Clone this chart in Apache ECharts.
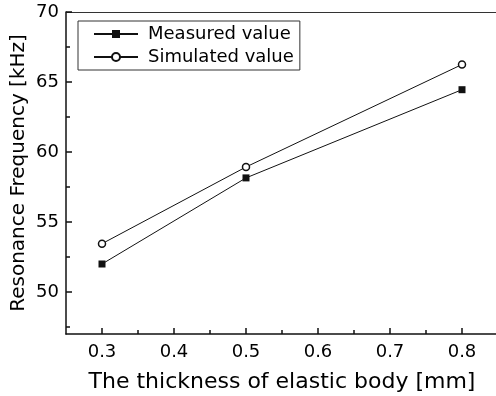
<!DOCTYPE html>
<html>
<head>
<meta charset="utf-8">
<script src="https://cdn.jsdelivr.net/npm/echarts@6/dist/echarts.min.js"></script>
<style>
  html, body { margin: 0; padding: 0; background: #fff; }
  #chart { width: 496px; height: 396px; }
</style>
</head>
<body>
<div id="chart"></div>
<script>
// thickness of elastic body [mm]
const thickness = [0.3, 0.5, 0.8];
// resonance frequency [kHz]
const measured = [52.0, 58.15, 64.45];
const simulated = [53.45, 58.93, 66.25];

const xMajor = [0.3, 0.4, 0.5, 0.6, 0.7, 0.8];
const xMinor = [0.35, 0.45, 0.55, 0.65, 0.75];
const yMajor = [50, 55, 60, 65, 70];
const yMinor = [47.5, 52.5, 57.5, 62.5, 67.5];

const FONT = 'DejaVu Sans';

const chart = echarts.init(document.getElementById('chart'));

const pairs = (ys) => thickness.map((x, i) => [x, ys[i]]);

const option = {
  animation: false,
  grid: {
    left: 66,
    right: -2,
    top: 12,
    bottom: 62,
    outerBoundsMode: 'none',
  },
  legend: {
    left: 78,
    top: 21,
    orient: 'vertical',
    padding: [4, 6, 4, 15],
    itemWidth: 44,
    itemHeight: 10,
    itemGap: 5,
    borderColor: '#333',
    borderWidth: 1,
    textStyle: {
      fontFamily: FONT,
      fontSize: 18,
      color: '#000',
      padding: [0, 0, 0, 5],
    },
    data: ['Measured value', 'Simulated value'],
  },
  xAxis: [
    {
      type: 'value',
      position: 'bottom',
      min: 0.25,
      max: 0.85,
      splitLine: { show: false },
      axisLine: { show: true, lineStyle: { color: '#111', width: 1.5 } },
      axisTick: {
        inside: true,
        length: 6,
        customValues: xMajor,
        lineStyle: { color: '#111', width: 1.5 },
      },
      axisLabel: {
        customValues: xMajor,
        margin: 9,
        fontFamily: FONT,
        fontSize: 18,
        color: '#000',
        formatter: (v) => v.toFixed(1),
      },
      name: 'The thickness of elastic body [mm]',
      nameLocation: 'middle',
      nameGap: 37,
      nameMoveOverlap: false,
      nameTextStyle: { fontFamily: FONT, fontSize: 22, color: '#000' },
    },
    {
      type: 'value',
      position: 'bottom',
      min: 0.25,
      max: 0.85,
      splitLine: { show: false },
      axisLine: { show: false },
      axisTick: {
        inside: true,
        length: 4,
        customValues: xMinor,
        lineStyle: { color: '#111', width: 1.5 },
      },
      axisLabel: { show: false },
    },
    {
      // top frame line only
      type: 'value',
      position: 'top',
      min: 0.25,
      max: 0.85,
      splitLine: { show: false },
      axisLine: { show: true, lineStyle: { color: '#333', width: 1 } },
      axisTick: { show: false },
      axisLabel: { show: false },
    },
  ],
  yAxis: [
    {
      type: 'value',
      position: 'left',
      min: 47,
      max: 70,
      splitLine: { show: false },
      axisLine: { show: true, lineStyle: { color: '#111', width: 1.5 } },
      axisTick: {
        inside: true,
        length: 6,
        customValues: yMajor,
        lineStyle: { color: '#111', width: 1.5 },
      },
      axisLabel: {
        customValues: yMajor,
        margin: 7,
        fontFamily: FONT,
        fontSize: 18,
        color: '#000',
      },
      name: 'Resonance Frequency [kHz]',
      nameLocation: 'middle',
      nameGap: 37,
      nameMoveOverlap: false,
      nameTextStyle: { fontFamily: FONT, fontSize: 20, color: '#000' },
    },
    {
      type: 'value',
      position: 'left',
      min: 47,
      max: 70,
      splitLine: { show: false },
      axisLine: { show: false },
      axisTick: {
        inside: true,
        length: 4,
        customValues: yMinor,
        lineStyle: { color: '#111', width: 1.5 },
      },
      axisLabel: { show: false },
    },
  ],
  series: [
    {
      name: 'Measured value',
      type: 'line',
      data: pairs(measured),
      symbol: 'rect',
      symbolSize: 7,
      lineStyle: { color: '#111', width: 1 },
      itemStyle: { color: '#111' },
    },
    {
      name: 'Simulated value',
      type: 'line',
      data: pairs(simulated),
      symbol: 'circle',
      symbolSize: 7,
      lineStyle: { color: '#111', width: 1 },
      itemStyle: { color: '#fff', borderColor: '#111', borderWidth: 1.5 },
    },
  ],
};

chart.setOption(option);
window.addEventListener('resize', () => { chart.resize(); });
</script>
</body>
</html>
